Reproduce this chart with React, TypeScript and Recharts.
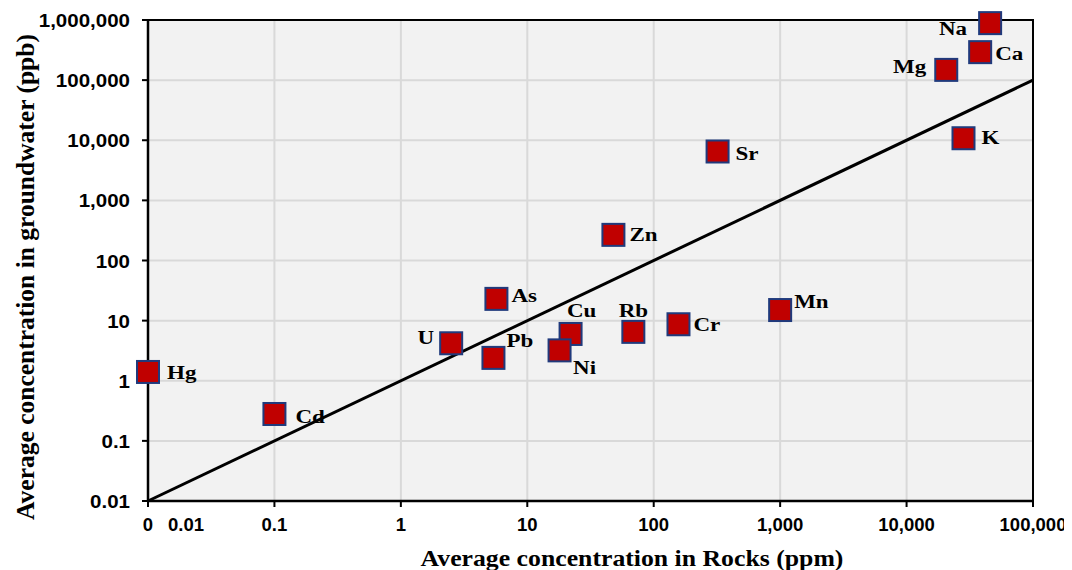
import { ScatterChart, Scatter, XAxis, YAxis, CartesianGrid, ReferenceLine, ReferenceArea, Label } from "recharts";

// element concentrations: rocks (ppm) vs groundwater (ppb)
const elements = ["Hg", "Cd", "U", "Pb", "As", "Cu", "Ni", "Rb", "Cr", "Zn", "Sr", "Mn", "Na", "Ca", "Mg", "K"];
const rockPpm = [0.01, 0.1, 2.5, 5.4, 5.7, 22, 18, 69, 157, 48, 320, 1000, 45800, 38200, 20600, 28200];
const waterPpb = [1.4, 0.28, 4.2, 2.4, 23, 6, 3.2, 6.5, 8.7, 267, 6500, 15, 887000, 292000, 148000, 10800];

const xTicks = [0.01, 0.1, 1, 10, 100, 1000, 10000, 100000];
const yTicks = [0.01, 0.1, 1, 10, 100, 1000, 10000, 100000, 1000000];

// 1:1 reference line
const oneToOne = [0.01, 100000];

// where each element's name sits relative to its marker
const labelPos: Record<string, { dx: number; dy: number; anchor: "start" | "middle" | "end" }> = {
  Hg: { dx: 19, dy: 7, anchor: "start" },
  Cd: { dx: 21, dy: 9, anchor: "start" },
  U: { dx: -17, dy: 1, anchor: "end" },
  Pb: { dx: 13, dy: -11, anchor: "start" },
  As: { dx: 15, dy: 3, anchor: "start" },
  Cu: { dx: 11, dy: -17, anchor: "middle" },
  Ni: { dx: 25, dy: 24, anchor: "middle" },
  Rb: { dx: 0, dy: -15, anchor: "middle" },
  Cr: { dx: 15, dy: 7, anchor: "start" },
  Zn: { dx: 16, dy: 6, anchor: "start" },
  Sr: { dx: 18, dy: 9, anchor: "start" },
  Mn: { dx: 14, dy: -2, anchor: "start" },
  Na: { dx: -23, dy: 12, anchor: "end" },
  Ca: { dx: 15, dy: 8, anchor: "start" },
  Mg: { dx: -20, dy: 3, anchor: "end" },
  K: { dx: 18, dy: 6, anchor: "start" },
};

const points = elements.map((name, i) => ({ name, x: rockPpm[i], y: waterPpb[i] }));

const SANS = "'Liberation Sans', Arial, sans-serif";
const SERIF = "'Liberation Serif', 'Times New Roman', serif";

const fmt = (v: number) => (v >= 1 ? v.toLocaleString("en-US") : String(v));

function XTick({ x, y, payload }: any) {
  const v = payload.value;
  return (
    <g transform={`translate(${x},${y + 22})`}>
      <text textAnchor="middle" fontFamily={SANS} fontWeight="bold" fontSize={18.5} fill="#000">
        {v === 0.01 ? "0" : fmt(v)}
      </text>
      {v === 0.01 && (
        <text x={38} textAnchor="middle" fontFamily={SANS} fontWeight="bold" fontSize={18.5} fill="#000">
          0.01
        </text>
      )}
    </g>
  );
}

function YTick({ x, y, payload }: any) {
  return (
    <g transform={`translate(${x - 10},${y + 7}) scale(1.08,1)`}>
      <text textAnchor="end" fontFamily={SANS} fontWeight="bold" fontSize={19} fill="#000">
        {fmt(payload.value)}
      </text>
    </g>
  );
}

function Marker({ cx, cy, payload }: any) {
  const p = labelPos[payload.name];
  return (
    <g>
      <rect x={cx - 11} y={cy - 11} width={22} height={22} fill="#c00000" stroke="#203a7c" strokeWidth={2} />
      <g transform={`translate(${cx + p.dx},${cy + p.dy}) scale(1.18,1)`}>
        <text textAnchor={p.anchor} fontFamily={SERIF} fontWeight="bold" fontSize={19.5} fill="#000">
          {payload.name}
        </text>
      </g>
    </g>
  );
}

export default function App() {
  return (
    <ScatterChart
      width={1064}
      height={562}
      margin={{ top: 12, right: 39, bottom: 0, left: 0 }}
      style={{ overflow: "visible" }}
    >
      <CartesianGrid stroke="#d9d9d9" strokeWidth={2} fill="#f2f2f2" fillOpacity={1} />
      <XAxis
        type="number"
        dataKey="x"
        scale="log"
        domain={[0.01, 100000]}
        ticks={xTicks}
        height={69}
        axisLine={{ stroke: "#000", strokeWidth: 2.5 }}
        tickLine={{ stroke: "#000", strokeWidth: 2 }}
        tickSize={6}
        tick={<XTick />}
        interval={0}
      >
        <Label
          content={() => (
            <g transform="translate(624,558) scale(1.12,1)">
              <text textAnchor="middle" fontFamily={SERIF} fontWeight="bold" fontSize={23} fill="#000">
                Average concentration in Rocks (ppm)
              </text>
            </g>
          )}
        />
      </XAxis>
      <YAxis
        type="number"
        dataKey="y"
        scale="log"
        domain={[0.01, 1000000]}
        ticks={yTicks}
        width={140}
        axisLine={{ stroke: "#000", strokeWidth: 2.5 }}
        tickLine={{ stroke: "#000", strokeWidth: 2 }}
        tickSize={6}
        tick={<YTick />}
        interval={0}
      >
        <Label
          content={() => (
            <text
              transform="translate(26,269) rotate(-90)"
              textAnchor="middle"
              fontFamily={SERIF}
              fontWeight="bold"
              fontSize={25.5}
              fill="#000"
            >
              Average concentration in groundwater (ppb)
            </text>
          )}
        />
      </YAxis>
      <ReferenceArea
        x1={0.01}
        x2={100000}
        y1={0.01}
        y2={1000000}
        fill="none"
        stroke="#000"
        strokeWidth={2}
        ifOverflow="visible"
      />
      <ReferenceLine
        segment={[
          { x: oneToOne[0], y: oneToOne[0] },
          { x: oneToOne[1], y: oneToOne[1] },
        ]}
        stroke="#000"
        strokeWidth={3}
        ifOverflow="visible"
      />
      <Scatter data={points} shape={<Marker />} isAnimationActive={false} />
    </ScatterChart>
  );
}
